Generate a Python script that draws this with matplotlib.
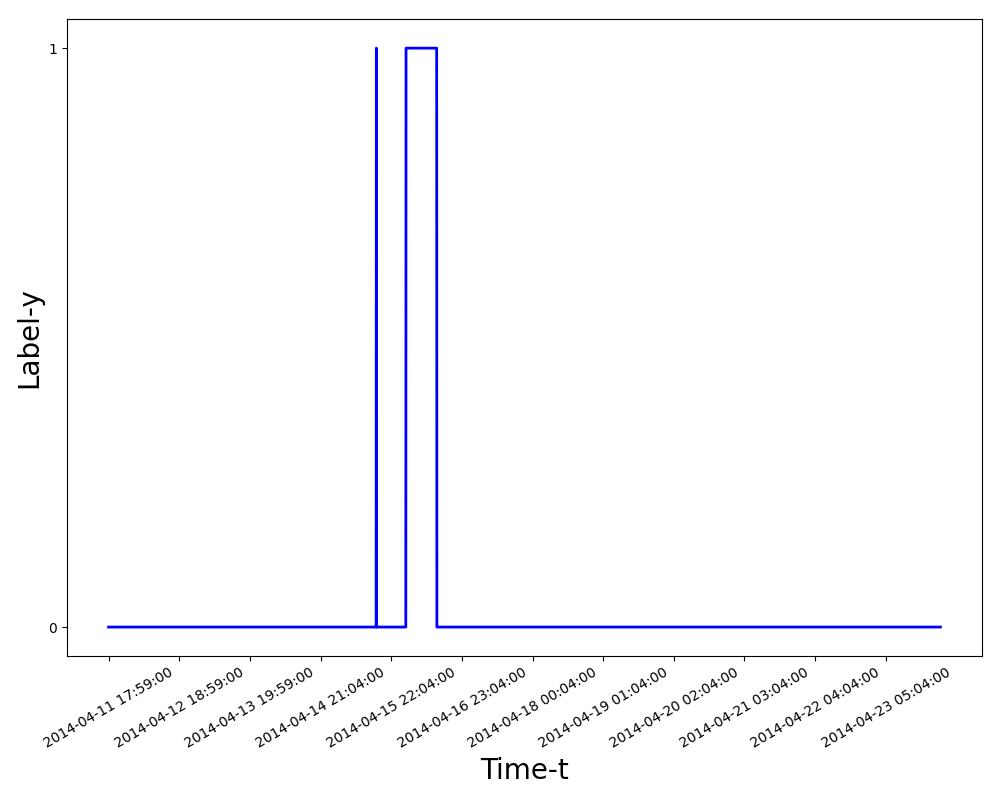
import matplotlib
matplotlib.use("Agg")
import matplotlib.pyplot as plt
import numpy as np

# label runs (5-minute samples): how long each run lasts and its label
run_lengths = [1137, 1, 125, 131, 2139]
run_labels = [0, 1, 0, 1, 0]

tick_step = 300  # one tick every 300 samples
tick_labels = [
    "2014-04-11 17:59:00", "2014-04-12 18:59:00", "2014-04-13 19:59:00",
    "2014-04-14 21:04:00", "2014-04-15 22:04:00", "2014-04-16 23:04:00",
    "2014-04-18 00:04:00", "2014-04-19 01:04:00", "2014-04-20 02:04:00",
    "2014-04-21 03:04:00", "2014-04-22 04:04:00", "2014-04-23 05:04:00",
]

y = np.repeat(run_labels, run_lengths)

fig = plt.figure(figsize=(10, 8), dpi=100)
plt.plot(y, color="blue", linewidth=2)
plt.xticks(np.arange(len(tick_labels)) * tick_step, tick_labels, rotation=30)
plt.yticks([0, 1])
plt.xlabel("Time-t", fontsize=20)
plt.ylabel("Label-y", fontsize=20)
plt.subplots_adjust(left=0.067, right=0.982, top=0.976, bottom=0.18)
plt.savefig("out.png")
